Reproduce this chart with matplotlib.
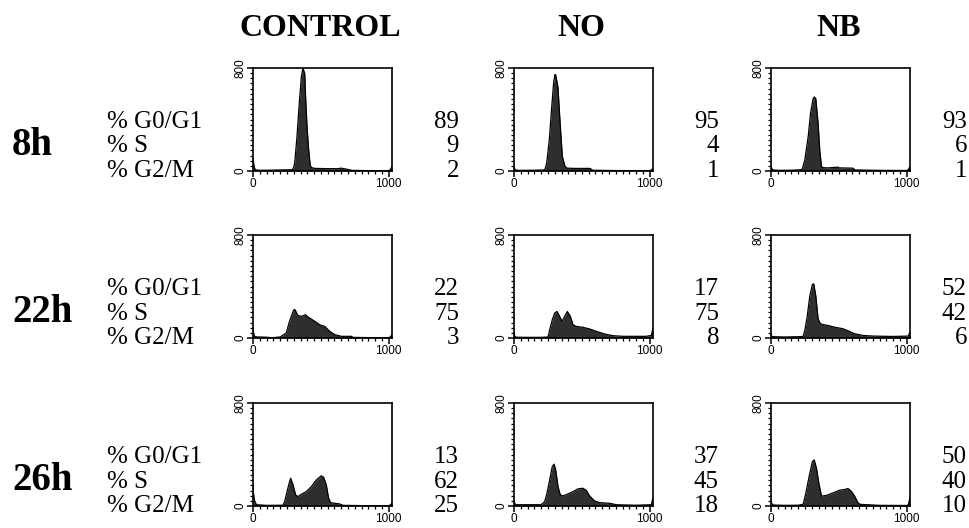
import numpy as np
import matplotlib
matplotlib.use('Agg')
import matplotlib.pyplot as plt
from matplotlib.ticker import FixedLocator, MultipleLocator

# column / row labels
treatments = ['CONTROL', 'NO', 'NB']
times = ['8h', '22h', '26h']
phases = ['% G0/G1', '% S', '% G2/M']

# percentages per time point (G0/G1, S, G2/M)
pct_control = [[89, 9, 2], [22, 75, 3], [13, 62, 25]]
pct_no = [[95, 4, 1], [17, 75, 8], [37, 45, 18]]
pct_nb = [[93, 6, 1], [52, 42, 6], [50, 40, 10]]

# DNA content histograms: channel, count
ctrl_8h_ch = [0, 4, 10, 18, 40, 120, 200, 290, 300, 307, 324, 339, 356, 368, 381, 388, 398, 410, 422, 437,
              460, 560, 620, 650, 690, 730, 850, 1000, 1012, 1023]
ctrl_8h_ct = [100, 65, 25, 10, 6, 6, 8, 10, 30, 60, 266, 500, 730, 800, 756, 563, 343, 163, 39, 24,
              20, 18, 18, 22, 14, 5, 3, 3, 10, 33]
no_8h_ch = [0, 5, 15, 60, 150, 220, 228, 241, 260, 276, 292, 302, 308, 324, 340, 356, 375, 390, 450, 560,
            580, 700, 850, 1000, 1012, 1023]
no_8h_ct = [35, 15, 6, 5, 6, 8, 13, 63, 241, 470, 686, 750, 744, 648, 368, 114, 38, 22, 20, 20,
            6, 4, 3, 3, 8, 20]
nb_8h_ch = [0, 5, 15, 60, 150, 225, 232, 249, 274, 291, 310, 320, 330, 347, 359, 372, 384, 420, 494, 500,
            520, 603, 620, 800, 1000, 1012, 1023]
nb_8h_ct = [40, 20, 8, 5, 6, 10, 21, 85, 266, 446, 562, 575, 562, 369, 163, 34, 26, 24, 30, 24,
            24, 22, 8, 5, 4, 10, 34]

ctrl_22h_ch = [0, 4, 12, 40, 100, 140, 200, 245, 265, 282, 300, 309, 331, 356, 388, 398, 430, 467, 491, 528,
               565, 602, 651, 724, 737, 850, 1000, 1012, 1023]
ctrl_22h_ct = [80, 40, 10, 8, 6, 2, 8, 39, 116, 168, 219, 220, 175, 168, 181, 168, 147, 121, 103, 90,
               52, 26, 13, 13, 5, 3, 3, 8, 26]
no_22h_ch = [0, 5, 15, 100, 200, 251, 263, 282, 300, 317, 336, 354, 373, 393, 415, 435, 459, 508, 557, 606,
             668, 729, 803, 974, 1012, 1023]
no_22h_ct = [40, 15, 6, 5, 5, 8, 65, 142, 194, 206, 168, 129, 168, 206, 168, 103, 90, 83, 70, 52,
             31, 18, 13, 13, 20, 77]
nb_22h_ch = [0, 5, 15, 100, 200, 237, 249, 266, 286, 305, 315, 330, 347, 364, 396, 420, 469, 530, 579, 616,
             677, 750, 900, 1012, 1023]
nb_22h_ct = [30, 15, 10, 8, 10, 12, 59, 161, 327, 416, 420, 327, 148, 110, 102, 97, 84, 72, 51, 33,
             20, 15, 12, 15, 46]

ctrl_26h_ch = [0, 3, 12, 25, 100, 221, 233, 245, 263, 277, 295, 314, 331, 356, 393, 430, 467, 503, 520, 540,
               557, 572, 602, 638, 663, 800, 1000, 1012, 1023]
ctrl_26h_ct = [164, 100, 40, 10, 5, 6, 34, 86, 164, 216, 164, 86, 73, 91, 112, 151, 203, 234, 223, 164,
               60, 26, 21, 16, 5, 3, 3, 8, 20]
no_26h_ch = [0, 5, 15, 100, 200, 226, 243, 263, 282, 295, 307, 324, 341, 361, 398, 435, 471, 508, 533, 557,
             594, 631, 705, 754, 900, 1012, 1023]
no_26h_ct = [40, 20, 10, 10, 10, 34, 99, 203, 307, 325, 281, 151, 86, 78, 94, 112, 133, 138, 120, 78,
             39, 26, 21, 10, 6, 10, 60]
nb_26h_ch = [0, 5, 15, 100, 200, 237, 257, 281, 305, 318, 335, 352, 372, 408, 457, 506, 543, 567, 591, 616,
             640, 657, 800, 1000, 1012, 1023]
nb_26h_ct = [38, 20, 8, 5, 6, 13, 102, 230, 345, 358, 294, 179, 77, 82, 102, 123, 128, 136, 115, 77,
             26, 13, 5, 4, 10, 64]

hists = [
    [(ctrl_8h_ch, ctrl_8h_ct), (no_8h_ch, no_8h_ct), (nb_8h_ch, nb_8h_ct)],
    [(ctrl_22h_ch, ctrl_22h_ct), (no_22h_ch, no_22h_ct), (nb_22h_ch, nb_22h_ct)],
    [(ctrl_26h_ch, ctrl_26h_ct), (no_26h_ch, no_26h_ct), (nb_26h_ch, nb_26h_ct)],
]
pcts = [pct_control, pct_no, pct_nb]

W, H = 970, 528
fig = plt.figure(figsize=(W / 100, H / 100), dpi=100)

serif = 'Liberation Serif'
sans = 'Liberation Sans'

def fx(px):
    return px / W

def fy(py):
    return 1 - py / H

ax_left = [253, 514, 771]
ax_top = [68, 235, 403]
ax_w, ax_h = 139, 103
num_right = [459, 719, 967]

for j, name in enumerate(treatments):
    fig.text(fx(ax_left[j] + ax_w / 2 - 2), fy(36), name, fontfamily=serif, fontweight='bold',
             fontsize=23, ha='center', va='baseline')

for i, t in enumerate(times):
    top = ax_top[i]
    base = top + 60  # baseline of first text line
    fig.text(fx(12), fy(base + 27), t, fontfamily=serif, fontweight='bold', fontsize=28,
             ha='left', va='baseline')
    for k, ph in enumerate(phases):
        fig.text(fx(107), fy(base + k * 24.5), ph, fontfamily=serif, fontsize=18,
                 ha='left', va='baseline')
    for j in range(3):
        for k in range(3):
            fig.text(fx(num_right[j]), fy(base + k * 24.5), str(pcts[j][i][k]), fontfamily=serif,
                     fontsize=18, ha='right', va='baseline')

        ax = fig.add_axes([fx(ax_left[j]), fy(top + ax_h), fx(ax_w), ax_h / H])
        ch, ct = hists[i][j]
        ax.fill_between(ch, ct, 0, color='#2e2e2e', lw=0)
        ax.plot(ch, ct, color='black', lw=0.9)
        ax.set_xlim(0, 1024)
        ax.set_ylim(0, 800)
        ax.xaxis.set_major_locator(FixedLocator([0, 1000]))
        ax.xaxis.set_minor_locator(MultipleLocator(50))
        ax.yaxis.set_major_locator(FixedLocator([0, 800]))
        ax.yaxis.set_minor_locator(MultipleLocator(40))
        ax.tick_params(which='major', direction='out', length=4, width=1.1, pad=1, labelsize=8.5)
        ax.tick_params(which='minor', direction='out', length=2.5, width=0.9)
        for lab in ax.get_xticklabels() + ax.get_yticklabels():
            lab.set_fontfamily(sans)
        for lab in ax.get_yticklabels():
            lab.set_rotation(90)
            lab.set_va('center')
        for s in ax.spines.values():
            s.set_linewidth(1.2)

fig.savefig('out.png', dpi=100)
